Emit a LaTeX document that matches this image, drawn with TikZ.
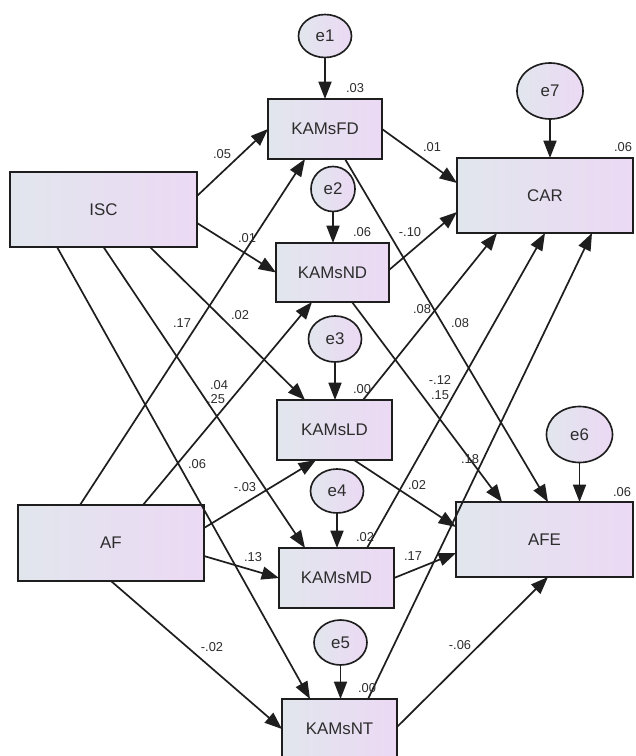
\documentclass[tikz,border=0pt]{standalone}
\usepackage{fontspec}
\setmainfont{Liberation Sans}
\usetikzlibrary{arrows.meta,calc,shapes.geometric}
\definecolor{boxL}{RGB}{225,230,237}
\definecolor{boxR}{RGB}{236,217,244}
\definecolor{edgecol}{RGB}{30,30,30}
\definecolor{txtcol}{RGB}{45,45,45}
\tikzset{
  varbox/.style={draw=edgecol, line width=1.5pt, left color=boxL, right color=boxR,
    inner sep=0pt, outer sep=0pt, font=\fontsize{14.4}{16}\selectfont, text=txtcol},
  errnode/.style={ellipse, draw=edgecol, line width=1.4pt, left color=boxL, right color=boxR,
    inner sep=0pt, outer sep=0pt, font=\fontsize{14.4}{16}\selectfont, text=txtcol},
  path/.style={draw=edgecol, line width=1.45pt, -{Triangle[length=5.2mm,width=3.9mm]}},
  lab/.style={font=\fontsize{11}{12}\selectfont, text=txtcol, inner sep=0pt}
}
\begin{document}
\begin{tikzpicture}[x=0.03cm, y=-0.03cm]
\useasboundingbox (0,0) rectangle (635,756);
\fill[white] (0,0) rectangle (635,756);
% variables
\node[varbox, minimum width=5.61cm, minimum height=2.25cm] (ISC) at (103.5,209.5) {ISC};
\node[varbox, minimum width=5.58cm, minimum height=2.28cm] (AF) at (111,543) {AF};
\node[varbox, minimum width=3.42cm, minimum height=1.8cm] (FD) at (325,129) {KAMsFD};
\node[varbox, minimum width=3.39cm, minimum height=1.77cm] (ND) at (332.5,272.5) {KAMsND};
\node[varbox, minimum width=3.45cm, minimum height=1.8cm] (LD) at (334.5,430) {KAMsLD};
\node[varbox, minimum width=3.45cm, minimum height=1.8cm] (MD) at (336.5,578) {KAMsMD};
\node[varbox, minimum width=3.45cm, minimum height=1.8cm] (NT) at (339.5,729) {KAMsNT};
\node[varbox, minimum width=5.28cm, minimum height=2.25cm] (CAR) at (545,195.5) {CAR};
\node[varbox, minimum width=5.31cm, minimum height=2.25cm] (AFE) at (544.5,539.5) {AFE};
% errors
\node[errnode, minimum width=1.59cm, minimum height=1.29cm] (e1) at (325,36) {e1};
\node[errnode, minimum width=1.32cm, minimum height=1.35cm] (e2) at (333,189) {e2};
\node[errnode, minimum width=1.59cm, minimum height=1.38cm] (e3) at (335,339) {e3};
\node[errnode, minimum width=1.59cm, minimum height=1.32cm] (e4) at (337,491) {e4};
\node[errnode, minimum width=1.59cm, minimum height=1.35cm] (e5) at (340.5,642.5) {e5};
\node[errnode, minimum width=1.98cm, minimum height=1.68cm] (e6) at (579.5,434.5) {e6};
\node[errnode, minimum width=1.98cm, minimum height=1.68cm] (e7) at (550,91) {e7};
% error paths
\draw[path] (e1.south) -- (e1 |- FD.north);
\draw[path] (e2.south) -- (e2 |- ND.north);
\draw[path] (e3.south) -- (e3 |- LD.north);
\draw[path] (e4.south) -- (e4 |- MD.north);
\draw[path] (e5.south) -- (e5 |- NT.north);
\draw[path] (e6.south) -- (e6 |- AFE.north);
\draw[path] (e7.south) -- (e7 |- CAR.north);
% structural paths
\draw[path] ($(ISC.east)+(0,-13.5)$) -- (FD.west);
\draw[path] ($(ISC.east)+(0,13.5)$) -- (ND.west);
\draw[path] ($(ISC.south)+(46.5,0)$) -- ($(LD.north)+(-29.5,0)$);
\draw[path] (ISC.south) -- ($(MD.north)+(-31.5,0)$);
\draw[path] ($(ISC.south)+(-46.5,0)$) -- ($(NT.north)+(-29.5,0)$);
\draw[path] ($(AF.north)+(-31,0)$) -- ($(FD.south)+(-20,0)$);
\draw[path] ($(AF.north)+(32,0)$) -- ($(ND.south)+(-20.5,0)$);
\draw[path] ($(AF.east)+(0,-15)$) -- ($(LD.south)+(-18.5,0)$);
\draw[path] ($(AF.east)+(0,13)$) -- (MD.west);
\draw[path] (AF.south) -- (NT.west);
\draw[path] (FD.east) -- ($(CAR.west)+(0,-12.5)$);
\draw[path] ($(FD.south)+(20,0)$) -- ($(AFE.north)+(3.5,0)$);
\draw[path] ($(ND.east)+(0,-2.5)$) -- ($(CAR.west)+(0,16.5)$);
\draw[path] ($(ND.south)+(19.5,0)$) -- ($(AFE.north)+(-42.5,0)$);
\draw[path] ($(LD.north)+(28.5,0)$) -- ($(CAR.south)+(-48,0)$);
\draw[path] ($(LD.south)+(19.5,0)$) -- ($(AFE.west)+(0,-12.5)$);
\draw[path] ($(MD.north)+(30.5,0)$) -- (CAR.south);
\draw[path] (MD.east) -- ($(AFE.west)+(0,13.5)$);
\draw[path] ($(NT.north)+(28.5,0)$) -- ($(CAR.south)+(47,0)$);
\draw[path] ($(NT.east)+(0,-2)$) -- ($(AFE.south)+(3.5,0)$);
% labels
\node[lab] (l1) at (355,88) {.03};
\node[lab] (l2) at (222,154) {.05};
\node[lab] (l3) at (432,147) {.01};
\node[lab] (l4) at (362,232) {.06};
\node[lab] (l5) at (410,232) {-.10};
\node[lab] (l6) at (247,238) {.01};
\node[lab] (l7) at (240,315) {.02};
\node[lab] (l8) at (182,323) {.17};
\node[lab] (l9) at (422,309) {.08};
\node[lab] (l10) at (460,323) {.08};
\node[lab] (l11) at (362,389) {.00};
\node[lab] (l12) at (440,380) {-.12};
\node[lab] (l13) at (440,395) {.15};
\node[lab] (l14) at (219,385) {.04};
\node[lab] (l15) at (216,399) {.25};
\node[lab] (l16) at (470,459) {.18};
\node[lab] (l17) at (197,464) {.06};
\node[lab] (l18) at (245,487) {-.03};
\node[lab] (l19) at (417,485) {.02};
\node[lab] (l20) at (365,537) {.02};
\node[lab] (l21) at (622,492) {.06};
\node[lab] (l22) at (623,147) {.06};
\node[lab] (l23) at (253,557) {.13};
\node[lab] (l24) at (413,556) {.17};
\node[lab] (l25) at (212,647) {-.02};
\node[lab] (l26) at (460,645) {-.06};
\node[lab] (l27) at (367,688) {.00};
\end{tikzpicture}
\end{document}
